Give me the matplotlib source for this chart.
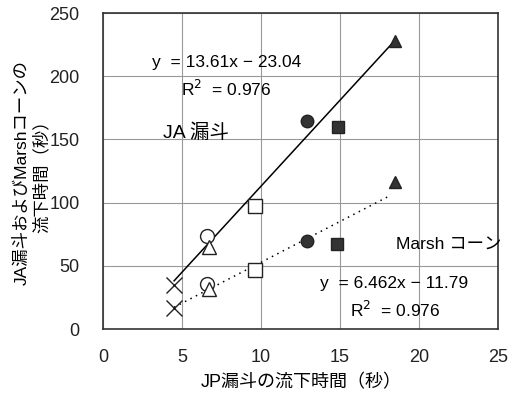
import numpy as np
import matplotlib.pyplot as plt

plt.rcParams['font.family'] = ['Liberation Sans', 'Noto Sans CJK JP']

# JP funnel time (x) vs JA funnel / Marsh cone time (y), one marker style per mix
markers = ['x', 'o', '^', 's', 'o', 's', '^']
filled = [False, False, False, False, True, True, True]
jp_time = [4.5, 6.6, 6.7, 9.6, 12.9, 14.9, 18.5]
ja_time = [35, 74, 65, 97, 165, 160, 228]
jp_time_marsh = [4.5, 6.6, 6.7, 9.6, 12.9, 14.8, 18.5]
marsh_time = [17, 36, 32, 47, 70, 67, 116]

ja_fit = (13.61, -23.04)
marsh_fit = (6.462, -11.79)

fig = plt.figure(figsize=(5.14, 3.96), dpi=100)
ax = fig.add_axes([0.2004, 0.169, 0.7686, 0.798])

for xs, ys in [(jp_time, ja_time), (jp_time_marsh, marsh_time)]:
    for m, f, x, y in zip(markers, filled, xs, ys):
        if m == 'x':
            ax.plot(x, y, marker='x', ms=11, mew=1.0, color='#222222', ls='none', zorder=3)
        elif f:
            ax.plot(x, y, marker=m, ms=9, color='#333333', mec='#222222', ls='none', zorder=3)
        else:
            ax.plot(x, y, marker=m, ms=10, mfc='white', mec='#222222', mew=1.0, ls='none', zorder=3)

xl = np.array([min(jp_time), max(jp_time)])
ax.plot(xl, np.polyval(ja_fit, xl), color='black', lw=1.1, zorder=2)
xl2 = np.array([min(jp_time_marsh), 18.2])
ax.plot(xl2, np.polyval(marsh_fit, xl2), color='black', lw=1.1, ls=(0, (1, 3)), zorder=2)

ax.set_xlim(0, 25)
ax.set_ylim(0, 250)
ax.set_xticks([0, 5, 10, 15, 20, 25])
ax.set_yticks([0, 50, 100, 150, 200, 250])
ax.grid(True, color='#999999', lw=0.8)
ax.tick_params(length=0, labelsize=13, colors='#222222')
ax.tick_params(axis='x', pad=14)
ax.tick_params(axis='y', pad=17)
for s in ax.spines.values():
    s.set_color('#333333')
    s.set_linewidth(1.2)

ax.text(7.8, 211, 'y  = 13.61x − 23.04', fontsize=12.5, ha='center', va='center')
ax.text(7.8, 190, 'R$^2$  = 0.976', fontsize=12.5, ha='center', va='center')
ax.text(5.9, 155, 'JA 漏斗', fontsize=14, ha='center', va='center')
ax.text(21.9, 66, 'Marsh コーン', fontsize=12.5, ha='center', va='center')
ax.text(18.4, 36, 'y  = 6.462x − 11.79', fontsize=12.5, ha='center', va='center')
ax.text(18.5, 15, 'R$^2$  = 0.976', fontsize=12.5, ha='center', va='center')

fig.text(0.587, 0.033, 'JP漏斗の流下時間（秒）', fontsize=13, ha='center', va='center')
fig.text(0.062, 0.565, 'JA漏斗およびMarshコーンの\n流下時間（秒）', fontsize=12.5,
         rotation=90, ha='center', va='center', linespacing=1.2, multialignment='center')

fig.savefig('out.png', dpi=100)
